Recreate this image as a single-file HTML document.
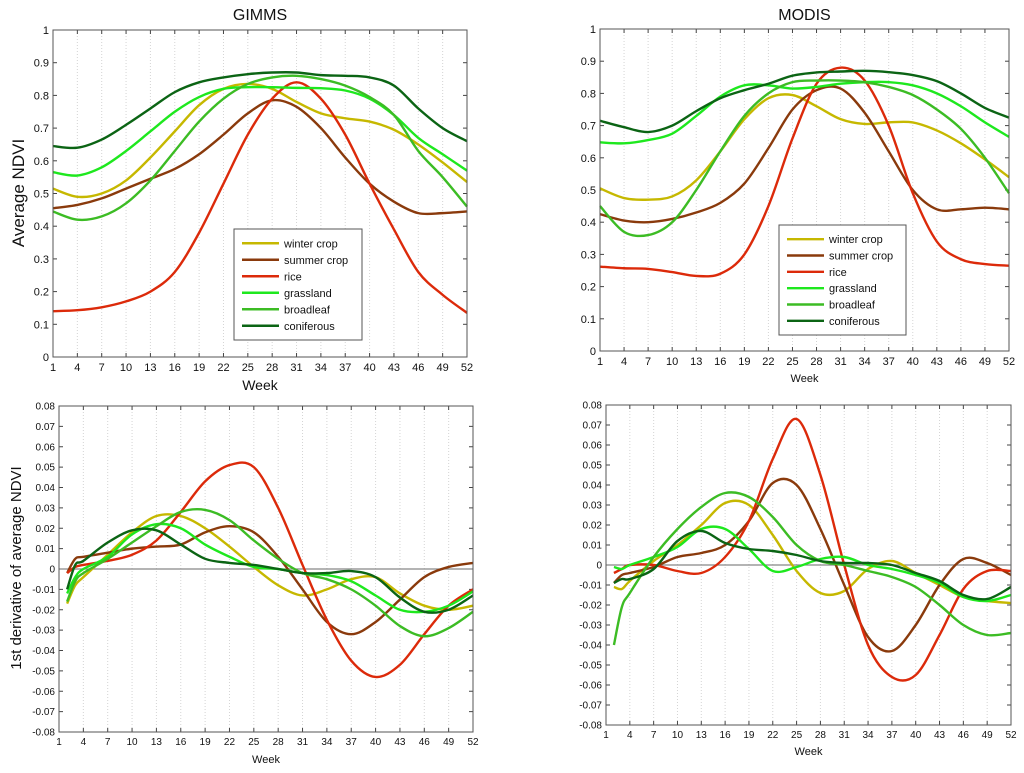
<!DOCTYPE html>
<html><head><meta charset="utf-8"><style>
body{margin:0;background:#fff;}
svg text{font-family:"Liberation Sans",Arial,sans-serif;fill:#111;}
</style></head><body>
<svg id="fig" width="1024" height="768" xmlns="http://www.w3.org/2000/svg"></svg>
<script>
const xTicks=[1,4,7,10,13,16,19,22,25,28,31,34,37,40,43,46,49,52];
const seriesNames=["winter crop","summer crop","rice","grassland","broadleaf","coniferous"];
const seriesColors=["#c6b800","#8a3a0c","#dc2a0a","#1ee81e","#3cbc24","#0b6414"];
const ndviWeeks=[1,4,7,10,13,16,19,22,25,28,31,34,37,40,43,46,49,52];
const gimmsWinter=[.515,.49,.50,.54,.61,.69,.77,.82,.835,.82,.78,.745,.73,.72,.695,.65,.595,.535];
const gimmsSummer=[.455,.465,.485,.515,.545,.575,.62,.68,.745,.785,.765,.70,.61,.53,.475,.44,.44,.445];
const gimmsRice=[.14,.143,.152,.17,.20,.26,.38,.53,.68,.79,.84,.79,.68,.53,.39,.26,.19,.135];
const gimmsGrass=[.565,.555,.58,.63,.69,.75,.795,.82,.825,.825,.823,.822,.815,.79,.74,.67,.62,.57];
const gimmsBroad=[.445,.42,.43,.47,.54,.63,.72,.79,.835,.855,.86,.85,.83,.795,.74,.63,.55,.46];
const gimmsConif=[.645,.64,.665,.71,.76,.81,.84,.855,.865,.87,.87,.862,.86,.855,.83,.76,.70,.66];
const modisWinter=[.505,.475,.47,.48,.53,.62,.72,.785,.795,.76,.72,.705,.71,.71,.685,.645,.595,.54];
const modisSummer=[.425,.405,.40,.41,.43,.46,.52,.63,.75,.81,.815,.74,.62,.50,.44,.44,.445,.44];
const modisRice=[.262,.257,.255,.245,.233,.24,.30,.45,.66,.83,.88,.84,.70,.49,.34,.285,.27,.265];
const modisGrass=[.648,.645,.655,.675,.73,.79,.825,.825,.815,.82,.83,.835,.835,.825,.80,.76,.71,.665];
const modisBroad=[.45,.37,.36,.40,.50,.62,.73,.80,.835,.84,.84,.835,.82,.795,.75,.69,.60,.49];
const modisConif=[.715,.695,.68,.70,.745,.785,.81,.83,.855,.865,.868,.87,.866,.857,.838,.80,.755,.725];
const derivWeeks=[2,3,4,7,10,13,16,19,22,25,28,31,34,37,40,43,46,49,52];
const gdWinter=[-.017,-.008,-.004,.007,.018,.026,.026,.02,.011,.001,-.008,-.013,-.01,-.005,-.004,-.012,-.018,-.02,-.018];
const gdSummer=[-.002,.005,.006,.008,.01,.011,.012,.018,.021,.018,.006,-.01,-.026,-.032,-.026,-.015,-.004,.001,.003];
const gdRice=[-.002,.001,.002,.004,.007,.014,.028,.043,.051,.05,.03,.002,-.025,-.045,-.053,-.047,-.032,-.018,-.01];
const gdGrass=[-.012,-.004,0,.006,.017,.022,.02,.012,.006,.001,0,-.002,-.003,-.006,-.013,-.02,-.021,-.018,-.011];
const gdBroad=[-.016,-.006,-.002,.005,.013,.021,.028,.029,.024,.014,.005,-.002,-.005,-.01,-.018,-.028,-.033,-.029,-.021];
const gdConif=[-.01,.002,.004,.013,.019,.019,.012,.005,.003,.002,0,-.002,-.002,-.001,-.004,-.014,-.021,-.02,-.013];
const mdWinter=[-.011,-.012,-.008,.002,.01,.02,.031,.03,.015,-.003,-.014,-.013,-.002,.002,-.004,-.01,-.016,-.018,-.019];
const mdSummer=[-.009,-.005,-.004,-.001,.004,.006,.01,.022,.041,.04,.018,-.01,-.036,-.043,-.03,-.01,.003,.001,-.005];
const mdRice=[-.004,-.002,0,0,-.003,-.004,.004,.022,.053,.073,.045,0,-.04,-.056,-.055,-.035,-.012,-.003,-.003];
const mdGrass=[-.001,-.002,0,.004,.009,.018,.018,.008,-.003,-.001,.003,.004,0,-.002,-.005,-.009,-.016,-.018,-.015];
const mdBroad=[-.04,-.021,-.014,.004,.018,.029,.036,.034,.024,.01,.002,0,-.003,-.006,-.011,-.02,-.03,-.035,-.034];
const mdConif=[-.009,-.007,-.007,-.002,.012,.017,.011,.008,.007,.005,.002,.001,.001,0,-.004,-.008,-.015,-.017,-.011];
const ndviTicks=[0,.1,.2,.3,.4,.5,.6,.7,.8,.9,1];
const ndviTickLabels=["0","0.1","0.2","0.3","0.4","0.5","0.6","0.7","0.8","0.9","1"];
const derivTicks=[-.08,-.07,-.06,-.05,-.04,-.03,-.02,-.01,0,.01,.02,.03,.04,.05,.06,.07,.08];
const derivTickLabels=["-0.08","-0.07","-0.06","-0.05","-0.04","-0.03","-0.02","-0.01","0","0.01","0.02","0.03","0.04","0.05","0.06","0.07","0.08"];

const NS="http://www.w3.org/2000/svg";
const svg=document.getElementById('fig');
function mk(tag,attrs,parent){const e=document.createElementNS(NS,tag);for(const k in attrs)e.setAttribute(k,attrs[k]);(parent||svg).appendChild(e);return e;}
function smooth(pts){let d="M"+pts[0][0]+","+pts[0][1];for(let i=0;i<pts.length-1;i++){const p0=pts[Math.max(0,i-1)],p1=pts[i],p2=pts[i+1],p3=pts[Math.min(pts.length-1,i+2)];d+=" C"+(p1[0]+(p2[0]-p0[0])/6)+","+(p1[1]+(p2[1]-p0[1])/6)+" "+(p2[0]-(p3[0]-p1[0])/6)+","+(p2[1]-(p3[1]-p1[1])/6)+" "+p2[0]+","+p2[1];}return d;}

function panel(o){
  const g=mk('g',{});
  
  
  const X=w=>o.x0+(w-1)/51*(o.x1-o.x0);
  const Y=v=>o.y1-(v-o.ymin)/(o.ymax-o.ymin)*(o.y1-o.y0);
  xTicks.forEach(t=>{
    if(t>1&&t<52){const l=mk('line',{x1:X(t),x2:X(t),y1:o.y0,y2:o.y1,stroke:'#d4d4d4','stroke-width':1,'stroke-dasharray':'1,2'},g);
    }
    mk('line',{x1:X(t),x2:X(t),y1:o.y1,y2:o.y1-4,stroke:'#444'},g);
    mk('line',{x1:X(t),x2:X(t),y1:o.y0,y2:o.y0+4,stroke:'#444'},g);
    const tx=mk('text',{x:X(t),y:o.y1+o.fs+3,'text-anchor':'middle','font-size':o.fs},g);tx.textContent=t;
    
  });
  o.yt.forEach((v,i)=>{
    mk('line',{x1:o.x0,x2:o.x0+4,y1:Y(v),y2:Y(v),stroke:'#444'},g);
    mk('line',{x1:o.x1,x2:o.x1-4,y1:Y(v),y2:Y(v),stroke:'#444'},g);
    const tx=mk('text',{x:o.x0-4,y:Y(v)+o.fs*0.36,'text-anchor':'end','font-size':o.fs},g);tx.textContent=o.yl[i];
    
  });
  if(o.zero){const z=mk('line',{x1:o.x0,x2:o.x1,y1:Y(0),y2:Y(0),stroke:'#888','stroke-width':1.2},g);}
  o.series.forEach((s,i)=>{
    const p=mk('path',{d:smooth(s.map((v,j)=>[X(o.weeks[j]),Y(v)])),fill:'none',stroke:seriesColors[i],'stroke-width':2.4},g);
    
    
  });
  const box=mk('rect',{x:o.x0,y:o.y0,width:o.x1-o.x0,height:o.y1-o.y0,fill:'none',stroke:'#555','stroke-width':1},g);
  
  const xl=mk('text',{x:(o.x0+o.x1)/2,y:o.wy,'text-anchor':'middle','font-size':o.wfs},g);xl.textContent='Week';
  
  if(o.title){const t=mk('text',{x:(o.x0+o.x1)/2,y:20,'text-anchor':'middle','font-size':16},g);t.textContent=o.title;
    }
  if(o.leg){const L=o.leg;const lg=mk('g',{},g);
    mk('rect',{x:L[0],y:L[1],width:L[2],height:L[3],fill:'#fff',stroke:'#555'},lg);
    const step=(L[3]-12)/6;
    seriesNames.forEach((n,i)=>{const yy=L[1]+6+step*(i+.5);
      mk('line',{x1:L[0]+8,x2:L[0]+45,y1:yy,y2:yy,stroke:seriesColors[i],'stroke-width':2.4},lg);
      const t=mk('text',{x:L[0]+50,y:yy+4,'font-size':11},lg);t.textContent=n;
      });
  }
}
panel({name:'gimms-ndvi-panel',x0:53,x1:467,y0:30,y1:357,ymin:0,ymax:1,yt:ndviTicks,yl:ndviTickLabels,fs:11,weeks:ndviWeeks,
 series:[gimmsWinter,gimmsSummer,gimmsRice,gimmsGrass,gimmsBroad,gimmsConif],title:'GIMMS',wy:390,wfs:14,leg:[234,229,128,111]});
panel({name:'modis-ndvi-panel',x0:600,x1:1009,y0:29,y1:351,ymin:0,ymax:1,yt:ndviTicks,yl:ndviTickLabels,fs:11,weeks:ndviWeeks,
 series:[modisWinter,modisSummer,modisRice,modisGrass,modisBroad,modisConif],title:'MODIS',wy:382,wfs:11,leg:[779,225,127,110]});
panel({name:'gimms-derivative-panel',x0:59,x1:473,y0:406,y1:732,ymin:-.08,ymax:.08,yt:derivTicks,yl:derivTickLabels,fs:10,weeks:derivWeeks,zero:true,
 series:[gdWinter,gdSummer,gdRice,gdGrass,gdBroad,gdConif],wy:763,wfs:11});
panel({name:'modis-derivative-panel',x0:606,x1:1011,y0:405,y1:725,ymin:-.08,ymax:.08,yt:derivTicks,yl:derivTickLabels,fs:10,weeks:derivWeeks,zero:true,
 series:[mdWinter,mdSummer,mdRice,mdGrass,mdBroad,mdConif],wy:755,wfs:11});
const y1=mk('text',{x:0,y:0,transform:'translate(24,193) rotate(-90)','text-anchor':'middle','font-size':17});y1.textContent='Average NDVI';

const y2=mk('text',{x:0,y:0,transform:'translate(21,568) rotate(-90)','text-anchor':'middle','font-size':15});y2.textContent='1st derivative of average NDVI';

</script>
</body></html>
